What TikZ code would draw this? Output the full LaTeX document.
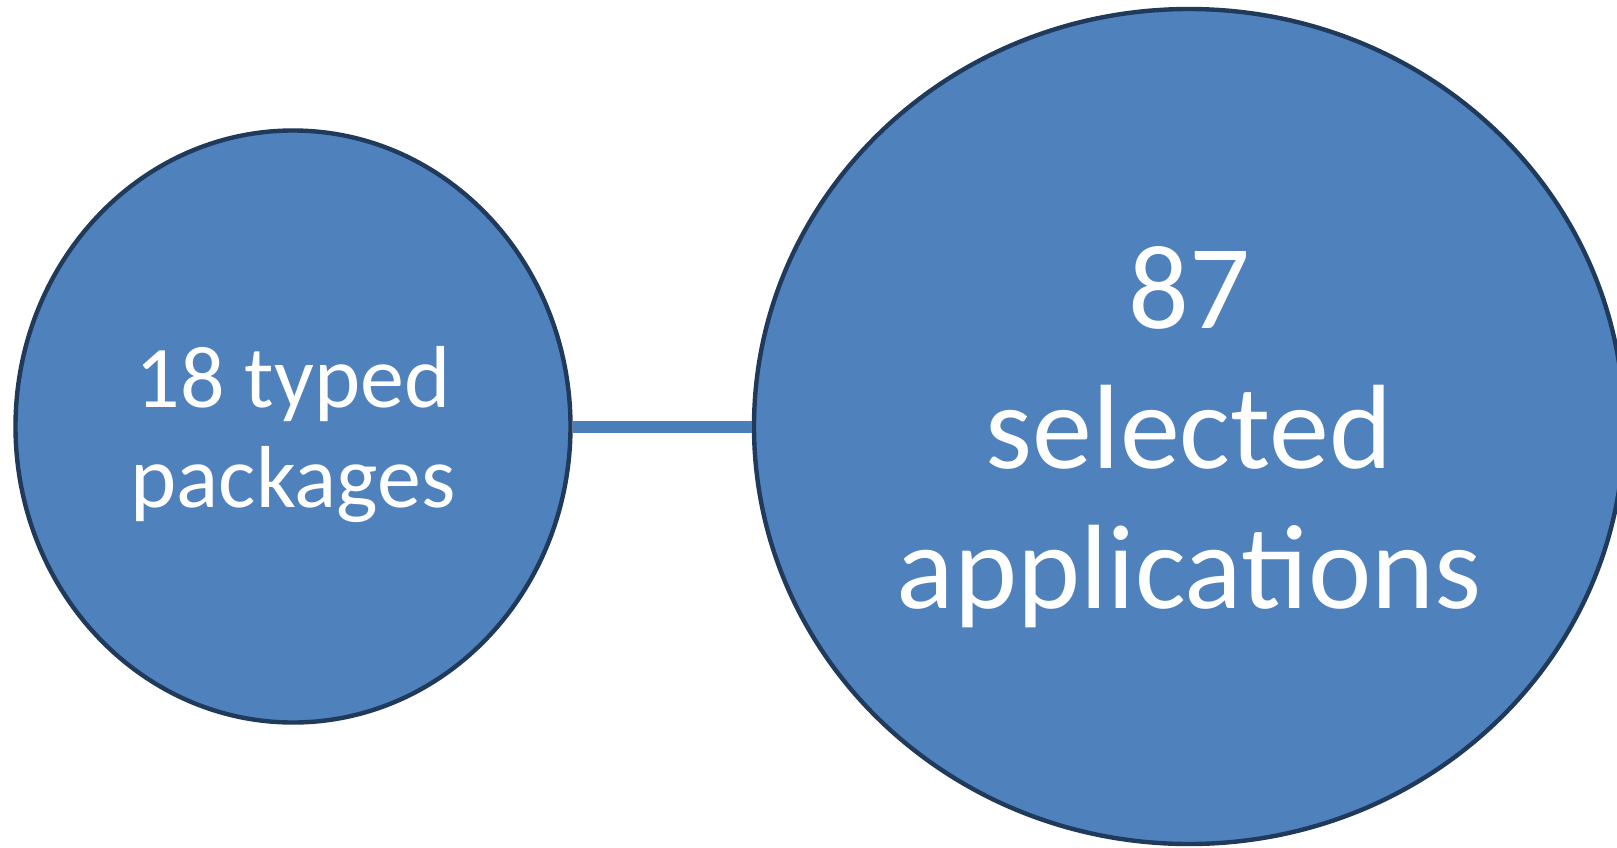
\documentclass[tikz,border=0pt]{standalone}
\usepackage{fontspec}
\setmainfont{Carlito}
\usetikzlibrary{shapes.geometric}

\definecolor{bubblefill}{HTML}{4F81BD}
\definecolor{bubbleedge}{HTML}{203A5C}
\definecolor{linkblue}{HTML}{4A7EBB}

\begin{document}
\begin{tikzpicture}[x=0.5pt,y=-0.5pt,
    bubble/.style={ellipse,draw=bubbleedge,fill=bubblefill,line width=2.2pt,
      inner sep=0pt},
    caption/.style={text=white,align=center,inner sep=0pt},
    link/.style={linkblue,line width=6pt}]
  \useasboundingbox (0,0) rectangle (1617,847);
  \begin{scope}
    \clip (0,0) rectangle (1617,847);
    \node[bubble,minimum width=277.5pt,minimum height=296pt] (pkgs) at (293,426.5) {};
    \node[bubble,minimum width=435pt,minimum height=417.5pt] (apps) at (1189,426.5) {};
    \draw[link] (pkgs) -- (apps);
    \node[caption,font=\fontsize{44}{50}\selectfont] (pkgslabel)
      at ([yshift=-4pt]pkgs.center) {18 typed\\packages};
    \node[caption,font=\fontsize{60}{70}\selectfont] (appslabel)
      at ([yshift=-5.5pt]apps.center) {87\\selected\\applications};
  \end{scope}
\end{tikzpicture}
\end{document}
